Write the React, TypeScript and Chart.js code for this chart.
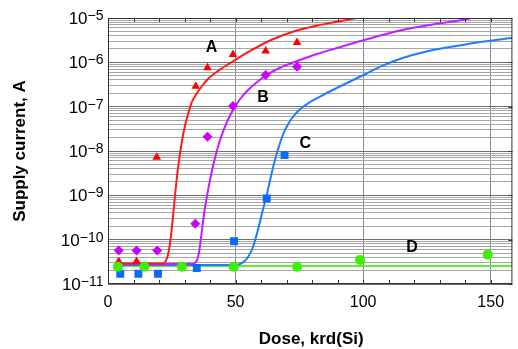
import React, { useEffect, useRef } from 'react';
import { Chart, registerables } from 'chart.js';

Chart.register(...registerables);

// ---- axis ranges / ticks ----
const X_MIN = 0;
const X_MAX = 158.5;
const Y_MIN = 1e-11;
const Y_MAX = 1e-5;
const xTickValues = [0, 10, 20, 30, 40, 50, 60, 70, 80, 90, 100, 110, 120, 130, 140, 150];
const xLabelValues = [0, 50, 100, 150];
const xGridValues = [50, 100, 150];
const yDecadeExponents = [-11, -10, -9, -8, -7, -6, -5];
const yMinorMultiples = [2, 3, 4, 5, 6, 7, 8, 9];

// ---- fitted curves ----
const curveAx = [3.36, 21.65, 22.62, 23.39, 24.16, 24.94, 25.71, 26.48, 27.25, 28.03, 28.99, 30.15, 31.51, 32.86, 34.52, 36.73, 39.16, 43.3, 49.87, 56.05, 62.63, 68.81, 75.38, 82.73, 89.69, 96.26, 97.5];
const curveAy = [2.9e-11, 2.9e-11, 3.3e-11, 4.28e-11, 7.2e-11, 1.65e-10, 4.67e-10, 1.32e-9, 3.36e-9, 7.3e-9, 1.68e-8, 3.66e-8, 7.2e-8, 1.27e-7, 1.88e-7, 2.85e-7, 4.2e-7, 6.5e-7, 1.13e-6, 1.85e-6, 2.95e-6, 4.14e-6, 5.5e-6, 6.9e-6, 8.2e-6, 9.75e-6, 1.0e-5];

const curveBx = [3.36, 33.25, 34.41, 35.18, 35.76, 36.34, 36.92, 37.69, 38.66, 39.82, 40.98, 42.33, 43.68, 45.62, 47.55, 49.48, 51.8, 54.51, 57.99, 61.86, 67.65, 74.22, 81.96, 89.69, 99.74, 115.2, 128.34, 139.94, 141.49, 142.3];
const curveBy = [2.83e-11, 2.83e-11, 3.13e-11, 3.86e-11, 5.55e-11, 9.8e-11, 1.83e-10, 4.0e-10, 8.7e-10, 2.0e-9, 4.14e-9, 8.6e-9, 1.6e-8, 3.3e-8, 5.85e-8, 9.3e-8, 1.49e-7, 2.26e-7, 3.42e-7, 5.05e-7, 7.65e-7, 1.07e-6, 1.54e-6, 2.1e-6, 3.11e-6, 5.36e-6, 7.33e-6, 9.25e-6, 9.75e-6, 1.0e-5];

const curveCx = [3.36, 50.26, 51.8, 53.35, 54.89, 56.44, 57.79, 59.15, 60.5, 61.85, 63.01, 64.17, 65.33, 66.69, 68.23, 69.97, 72.29, 75.38, 78.86, 82.73, 89.69, 99.74, 107.47, 115.47, 122.55, 128.34, 141.1, 158.5];
const curveCy = [2.68e-11, 2.68e-11, 2.83e-11, 3.22e-11, 4.06e-11, 6.0e-11, 1.04e-10, 2.03e-10, 4.2e-10, 8.3e-10, 1.62e-9, 3.19e-9, 5.95e-9, 1.11e-8, 2.07e-8, 3.48e-8, 5.7e-8, 8.86e-8, 1.24e-7, 1.65e-7, 2.64e-7, 5.05e-7, 8.3e-7, 1.25e-6, 1.63e-6, 1.95e-6, 2.59e-6, 3.57e-6];

const curveDx = [3.36, 158.5];
const curveDy = [2.55e-11, 2.55e-11];

// ---- measured points ----
const pointsAx = [4.2, 11.2, 19.1, 34.4, 39.0, 49.0, 61.8, 74.1];
const pointsAy = [3.2e-11, 3.2e-11, 7.2e-9, 2.9e-7, 7.5e-7, 1.5e-6, 1.8e-6, 2.8e-6];

const pointsBx = [4.2, 11.2, 19.3, 34.2, 39.0, 49.0, 61.8, 74.1];
const pointsBy = [5.7e-11, 5.7e-11, 5.7e-11, 2.3e-10, 2.1e-8, 1.04e-7, 5.2e-7, 8.0e-7];

const pointsCx = [4.8, 11.9, 19.6, 34.8, 49.4, 62.2, 69.2];
const pointsCy = [1.7e-11, 1.7e-11, 1.7e-11, 2.3e-11, 9.2e-11, 8.5e-10, 8.1e-9];

const pointsDx = [3.9, 14.2, 29.0, 49.3, 74.1, 98.8, 148.8];
const pointsDy = [2.45e-11, 2.45e-11, 2.45e-11, 2.45e-11, 2.45e-11, 3.5e-11, 4.6e-11];

// ---- curve labels ----
const curveLabelText = ['A', 'B', 'C', 'D'];
const curveLabelX = [40.6, 60.8, 77.3, 119.2];
const curveLabelY = [2.1e-6, 1.63e-7, 1.49e-8, 6.6e-11];

const xTitle = 'Dose, krd(Si)';
const yTitle = 'Supply current, A';

const FONT = '"Liberation Sans", Arial, Helvetica, sans-serif';

const zip = (xs: number[], ys: number[]) => xs.map((x, i) => ({ x, y: ys[i] }));

const yTickValues: number[] = [];
yDecadeExponents.forEach((e, i) => {
  yTickValues.push(Math.pow(10, e));
  if (i < yDecadeExponents.length - 1) {
    yMinorMultiples.forEach((m) => yTickValues.push(m * Math.pow(10, e)));
  }
});

const isDecade = (v: number) => {
  const l = Math.log10(v);
  return Math.abs(l - Math.round(l)) < 1e-6;
};

const decorPlugin = {
  id: 'decor',
  afterDraw(chart: any) {
    const { ctx, chartArea: ca } = chart;
    const xs = chart.scales.x;
    const ys = chart.scales.y;
    ctx.save();
    // frame
    ctx.strokeStyle = '#333333';
    ctx.lineWidth = 1;
    ctx.strokeRect(ca.left + 0.5, ca.top + 0.5, ca.right - ca.left - 1, ca.bottom - ca.top - 1);
    // inward tick marks
    ctx.beginPath();
    xTickValues.forEach((v) => {
      if (v <= X_MIN) return;
      const px = Math.round(xs.getPixelForValue(v)) + 0.5;
      ctx.moveTo(px, ca.bottom);
      ctx.lineTo(px, ca.bottom - 4);
      ctx.moveTo(px, ca.top);
      ctx.lineTo(px, ca.top + 4);
    });
    yDecadeExponents.forEach((e) => {
      const py = Math.round(ys.getPixelForValue(Math.pow(10, e))) + 0.5;
      ctx.moveTo(ca.right, py);
      ctx.lineTo(ca.right - 4, py);
    });
    ctx.stroke();

    // y tick labels 10^e
    ctx.fillStyle = '#000000';
    ctx.textBaseline = 'alphabetic';
    ctx.textAlign = 'left';
    yDecadeExponents.forEach((e) => {
      const py = ys.getPixelForValue(Math.pow(10, e));
      const base = '10';
      const exp = '\u2212' + String(Math.abs(e));
      ctx.font = '17px ' + FONT;
      const wb = ctx.measureText(base).width;
      ctx.font = '14px ' + FONT;
      const we = ctx.measureText(exp).width;
      const right = ca.left - 4.5;
      const x0 = right - wb - we;
      ctx.font = '17px ' + FONT;
      ctx.fillText(base, x0, py + 6);
      ctx.font = '14px ' + FONT;
      ctx.fillText(exp, x0 + wb, py + 2);
    });

    // curve letters
    ctx.font = 'bold 16px ' + FONT;
    ctx.textAlign = 'center';
    ctx.textBaseline = 'middle';
    curveLabelText.forEach((t, i) => {
      ctx.fillText(t, xs.getPixelForValue(curveLabelX[i]), ys.getPixelForValue(curveLabelY[i]));
    });

    // axis titles
    ctx.font = 'bold 17px ' + FONT;
    ctx.textAlign = 'center';
    ctx.textBaseline = 'alphabetic';
    ctx.fillText(xTitle, (ca.left + ca.right) / 2 + 1, 344);
    ctx.translate(25, (ca.top + ca.bottom) / 2);
    ctx.rotate(-Math.PI / 2);
    ctx.fillText(yTitle, 0, 0);
    ctx.restore();
  },
};

export default function App() {
  const canvasRef = useRef<HTMLCanvasElement | null>(null);

  useEffect(() => {
    document.body.style.margin = '0';
    const canvas = canvasRef.current;
    if (!canvas) return;
    Chart.defaults.font.family = FONT;

    const lineDs = (xs: number[], ys: number[], color: string) => ({
      type: 'line' as const,
      data: zip(xs, ys),
      borderColor: color,
      borderWidth: 2,
      pointRadius: 0,
      fill: false,
      cubicInterpolationMode: 'monotone' as const,
      order: 2,
    });
    const markDs = (xs: number[], ys: number[], color: string, style: string, r: number) => ({
      type: 'line' as const,
      data: zip(xs, ys),
      showLine: false,
      pointStyle: style,
      pointRadius: r,
      pointBackgroundColor: color,
      pointBorderColor: color,
      pointBorderWidth: 0,
      order: 1,
    });

    const chart = new Chart(canvas, {
      type: 'line',
      data: {
        datasets: [
          markDs(pointsDx, pointsDy, '#3ef000', 'circle', 5),
          markDs(pointsCx, pointsCy, '#0a6cf5', 'rect', 5.6),
          markDs(pointsBx, pointsBy, '#cc00ff', 'rectRot', 5),
          markDs(pointsAx, pointsAy, '#ff0000', 'triangle', 5),
          lineDs(curveAx, curveAy, '#ff1a1a'),
          lineDs(curveBx, curveBy, '#c21cff'),
          lineDs(curveCx, curveCy, '#1f7bff'),
          lineDs(curveDx, curveDy, '#5cf22a'),
        ] as any,
      },
      options: {
        responsive: false,
        animation: false,
        devicePixelRatio: 1,
        layout: { padding: { top: 18, left: 0, right: 0, bottom: 0 } },
        plugins: { legend: { display: false }, tooltip: { enabled: false } },
        events: [],
        scales: {
          x: {
            type: 'linear',
            min: X_MIN,
            max: X_MAX,
            afterBuildTicks: (scale: any) => {
              scale.ticks = xTickValues.map((v) => ({ value: v }));
            },
            afterFit: (scale: any) => {
              scale.height = 65;
            },
            grid: {
              drawTicks: false,
              color: (c: any) => (c.tick && xGridValues.includes(c.tick.value) ? '#8a8a8a' : 'rgba(0,0,0,0)'),
              lineWidth: 1,
            },
            border: { display: false },
            ticks: {
              autoSkip: false,
              maxRotation: 0,
              padding: 9,
              color: '#000000',
              font: { size: 16, family: FONT },
              callback: (v: any) => (xLabelValues.includes(Number(v)) ? String(v) : ''),
            },
          },
          y: {
            type: 'logarithmic',
            min: Y_MIN,
            max: Y_MAX,
            afterBuildTicks: (scale: any) => {
              scale.ticks = yTickValues.map((v) => ({ value: v }));
            },
            afterFit: (scale: any) => {
              scale.width = 108;
            },
            grid: {
              drawTicks: false,
              color: (c: any) => (c.tick && isDecade(c.tick.value) ? '#6e6e6e' : '#a6a6a6'),
              lineWidth: 1,
            },
            border: { display: false },
            ticks: { display: false },
          },
        },
      },
      plugins: [decorPlugin],
    });
    return () => chart.destroy();
  }, []);

  return (
    <div style={{ width: 518, height: 349 }}>
      <canvas ref={canvasRef} width={518} height={349} style={{ display: 'block' }} />
    </div>
  );
}
